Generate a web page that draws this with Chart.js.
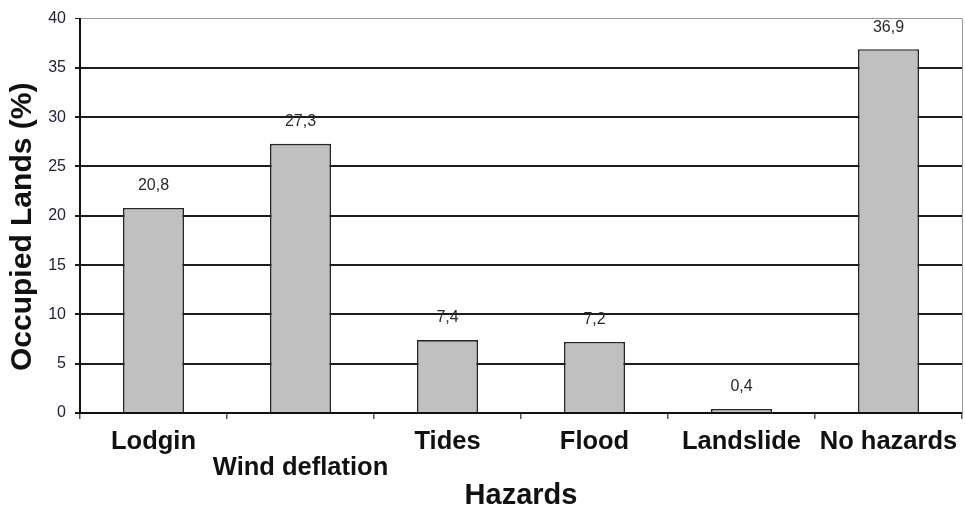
<!DOCTYPE html>
<html>
<head>
<meta charset="utf-8">
<script src="https://cdn.jsdelivr.net/npm/chart.js@4/dist/chart.umd.min.js"></script>
<style>
  html, body { margin: 0; padding: 0; background: #fff; }
  #wrap { width: 965px; height: 510px; }
</style>
</head>
<body>
<div id="wrap"><canvas id="c" width="965" height="510"></canvas></div>
<script>
// Share of occupied land affected by each hazard
const hazards = ['Lodgin', 'Wind deflation', 'Tides', 'Flood', 'Landslide', 'No hazards'];
const occupiedShare = [20.8, 27.3, 7.4, 7.2, 0.4, 36.9];
const yTicks = [0, 5, 10, 15, 20, 25, 30, 35, 40];
const yTitle = 'Occupied Lands (%)';

const FONT = 'Arial, "Liberation Sans", sans-serif';

// Value labels above each bar, decimal comma
const valueLabels = {
  id: 'valueLabels',
  afterDatasetsDraw(chart) {
    const { ctx } = chart;
    const meta = chart.getDatasetMeta(0);
    ctx.save();
    ctx.font = '16px ' + FONT;
    ctx.fillStyle = '#2a2a2a';
    ctx.textAlign = 'center';
    ctx.textBaseline = 'middle';
    meta.data.forEach((bar, i) => {
      const v = chart.data.datasets[0].data[i];
      ctx.fillText(v.toFixed(1).replace('.', ','), bar.x, bar.y - 22);
    });
    ctx.restore();
  }
};

// Thin grey frame on the right side of the plot area
const plotFrame = {
  id: 'plotFrame',
  beforeDatasetsDraw(chart) {
    const { ctx, chartArea: a } = chart;
    ctx.save();
    ctx.strokeStyle = '#9a9a9a';
    ctx.lineWidth = 1;
    ctx.beginPath();
    ctx.moveTo(a.right + 0.5, a.top);
    ctx.lineTo(a.right + 0.5, a.bottom);
    ctx.stroke();
    ctx.restore();
  }
};

// Vertical axis title, set a little below the middle of the value axis
const valueAxisTitle = {
  id: 'valueAxisTitle',
  afterDraw(chart) {
    const { ctx, chartArea: a } = chart;
    ctx.save();
    ctx.translate(23, (a.top + a.bottom) / 2 + 11);
    ctx.rotate(-Math.PI / 2);
    ctx.font = 'bold 30px ' + FONT;
    ctx.fillStyle = '#111';
    ctx.textAlign = 'center';
    ctx.textBaseline = 'middle';
    ctx.fillText(yTitle, 0, 0);
    ctx.restore();
  }
};

new Chart(document.getElementById('c'), {
  type: 'bar',
  data: {
    labels: hazards,
    datasets: [{
      data: occupiedShare,
      backgroundColor: '#c0c0c0',
      borderColor: '#262626',
      borderWidth: 1.6,
      categoryPercentage: 1,
      barPercentage: 0.415
    }]
  },
  options: {
    responsive: false,
    animation: false,
    layout: { padding: { top: 18, right: 3, left: 0, bottom: 0 } },
    plugins: {
      legend: { display: false },
      tooltip: { enabled: false }
    },
    scales: {
      x: {
        afterFit(scale) {
          scale.height = 97;
          scale.paddingLeft = 0;
          scale.paddingRight = 0;
        },
        border: { color: '#111', width: 2 },
        grid: {
          offset: true,
          drawOnChartArea: false,
          drawTicks: true,
          tickLength: 6,
          color: '#555',
          lineWidth: 1.5
        },
        ticks: {
          color: '#111',
          padding: 10,
          maxRotation: 0,
          autoSkip: false,
          font: { family: FONT, size: 25.5, weight: 'bold', lineHeight: 1.02 },
          // long second label drops to a lower row so it does not collide
          callback(value, index) {
            const label = this.getLabelForValue(value);
            return index === 1 ? ['', label] : label;
          }
        },
        title: {
          display: true,
          text: 'Hazards',
          color: '#111',
          font: { family: FONT, size: 29, weight: 'bold', lineHeight: 1.0 },
          padding: { top: 0, bottom: 0 }
        }
      },
      y: {
        min: 0,
        max: 40,
        afterFit(scale) { scale.width = 80; },
        afterBuildTicks(scale) { scale.ticks = yTicks.map(v => ({ value: v })); },
        border: { color: '#111', width: 2 },
        grid: {
          color: ctx => ctx.tick && ctx.tick.value === 40 ? '#9a9a9a' : '#1c1c1c',
          lineWidth: ctx => ctx.tick && ctx.tick.value === 40 ? 1 : 2,
          tickLength: 5,
          tickColor: '#1c1c1c'
        },
        ticks: {
          color: '#22223a',
          padding: 9,
          font: { family: FONT, size: 16 }
        },
        title: { display: false }
      }
    }
  },
  plugins: [plotFrame, valueLabels, valueAxisTitle]
});
</script>
</body>
</html>
